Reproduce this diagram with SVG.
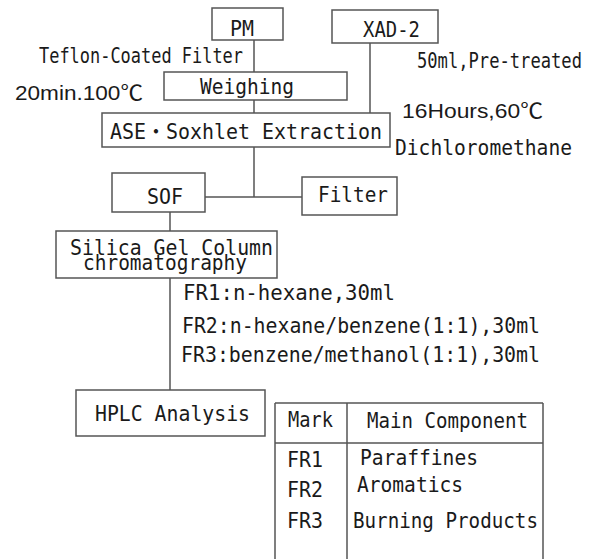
<svg xmlns="http://www.w3.org/2000/svg" width="595" height="559" viewBox="0 0 595 559">
<style>
.box{fill:#fff;stroke:#555;stroke-width:1.5}
.ln{stroke:#555;stroke-width:1.5;fill:none}
text{font-family:"DejaVu Sans Mono","Noto Sans CJK JP",monospace;font-size:21px;fill:#1a1a1a}
.sans{font-family:"Liberation Sans","Noto Sans CJK JP",sans-serif}
</style>
<rect width="595" height="559" fill="#fff"/>
<g id="connectors">
<line class="ln" x1="254" y1="40" x2="254" y2="72"/>
<line class="ln" x1="254" y1="100" x2="254" y2="113"/>
<line class="ln" x1="370" y1="43" x2="370" y2="113"/>
<line class="ln" x1="254" y1="147" x2="254" y2="197"/>
<line class="ln" x1="205" y1="197" x2="302" y2="197"/>
<line class="ln" x1="170" y1="212" x2="170" y2="231"/>
<line class="ln" x1="170" y1="278" x2="170" y2="390"/>
</g>
<g id="pm">
<rect class="box" x="212" y="8" width="71" height="32"/>
<text x="230" y="36" font-size="24" textLength="24" lengthAdjust="spacingAndGlyphs">PM</text>
</g>
<g id="xad2">
<rect class="box" x="332" y="10" width="106" height="33"/>
<text x="363" y="37" textLength="57" lengthAdjust="spacingAndGlyphs">XAD-2</text>
</g>
<g id="weighing">
<rect class="box" x="164" y="72" width="183" height="28"/>
<text x="200" y="94" textLength="94" lengthAdjust="spacingAndGlyphs">Weighing</text>
</g>
<g id="ase">
<rect class="box" x="102" y="113" width="288" height="34"/>
<text x="110" y="139" font-size="23" textLength="272" lengthAdjust="spacingAndGlyphs">ASE・Soxhlet Extraction</text>
</g>
<g id="sof">
<rect class="box" x="112" y="173" width="93" height="39"/>
<text x="147" y="204" font-size="23" textLength="36" lengthAdjust="spacingAndGlyphs">SOF</text>
</g>
<g id="filter">
<rect class="box" x="302" y="177" width="95" height="38"/>
<text x="318" y="202" font-size="23" textLength="70" lengthAdjust="spacingAndGlyphs">Filter</text>
</g>
<g id="silica">
<rect class="box" x="56" y="231" width="221" height="47"/>
<text x="70" y="255" font-size="22" textLength="203" lengthAdjust="spacingAndGlyphs">Silica Gel Column</text>
<text x="83" y="270" font-size="20" textLength="164" lengthAdjust="spacingAndGlyphs">chromatography</text>
</g>
<g id="hplc">
<rect class="box" x="76" y="390" width="189" height="46"/>
<text x="95" y="421" font-size="23" textLength="155" lengthAdjust="spacingAndGlyphs">HPLC Analysis</text>
</g>
<g id="labels">
<text x="39" y="63" textLength="204" lengthAdjust="spacingAndGlyphs">Teflon-Coated Filter</text>
<text class="sans" x="15" y="100" font-size="21" textLength="128" lengthAdjust="spacingAndGlyphs">20min.100℃</text>
<text x="417" y="68" font-size="19" textLength="165" lengthAdjust="spacingAndGlyphs">50ml,Pre-treated</text>
<text class="sans" x="402" y="118" font-size="22" textLength="141" lengthAdjust="spacingAndGlyphs">16Hours,60℃</text>
<text x="395" y="155" font-size="22" textLength="177" lengthAdjust="spacingAndGlyphs">Dichloromethane</text>
<text x="183" y="300" textLength="212" lengthAdjust="spacingAndGlyphs">FR1:n-hexane,30ml</text>
<text x="182" y="333" textLength="358" lengthAdjust="spacingAndGlyphs">FR2:n-hexane/benzene(1:1),30ml</text>
<text x="181" y="362" textLength="359" lengthAdjust="spacingAndGlyphs">FR3:benzene/methanol(1:1),30ml</text>
</g>
<g id="table">
<line class="ln" x1="275" y1="403" x2="543" y2="403"/>
<line class="ln" x1="275" y1="443" x2="543" y2="443"/>
<line class="ln" x1="275" y1="403" x2="275" y2="559"/>
<line class="ln" x1="347" y1="403" x2="347" y2="559"/>
<line class="ln" x1="543" y1="403" x2="543" y2="559"/>
<text x="288" y="427" textLength="45" lengthAdjust="spacingAndGlyphs">Mark</text>
<text x="367" y="428" textLength="161" lengthAdjust="spacingAndGlyphs">Main Component</text>
<text x="287" y="467" textLength="36" lengthAdjust="spacingAndGlyphs">FR1</text>
<text x="360" y="465" textLength="118" lengthAdjust="spacingAndGlyphs">Paraffines</text>
<text x="287" y="497" textLength="36" lengthAdjust="spacingAndGlyphs">FR2</text>
<text x="357" y="492" textLength="106" lengthAdjust="spacingAndGlyphs">Aromatics</text>
<text x="287" y="528" textLength="36" lengthAdjust="spacingAndGlyphs">FR3</text>
<text x="353" y="528" textLength="185" lengthAdjust="spacingAndGlyphs">Burning Products</text>
</g>
</svg>
